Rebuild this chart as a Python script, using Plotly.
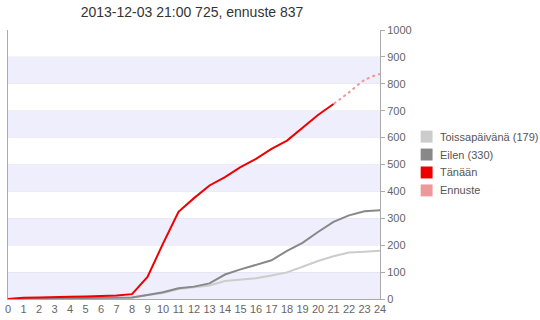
import plotly.graph_objects as go

hours = list(range(25))
toissa = [0, 1, 2, 2, 3, 3, 4, 5, 6, 15, 22, 37, 44, 50, 67, 73, 77, 87, 99, 120, 141, 159, 173, 176, 179]
eilen = [0, 1, 2, 2, 3, 3, 4, 5, 6, 15, 25, 40, 46, 58, 91, 110, 127, 144, 179, 209, 249, 287, 311, 326, 330]
tanaan_hours = list(range(22))
tanaan = [0, 5, 6, 6, 8, 9, 10, 13, 18, 82, 206, 324, 375, 422, 453, 490, 521, 558, 589, 638, 684, 725]
ennuste_hours = [21, 22, 23, 24]
ennuste = [725, 768, 814, 837]

title_text = "2013-12-03 21:00 725, ennuste 837"
legend_names = ["Toissapäivänä (179)", "Eilen (330)", "Tänään", "Ennuste"]
legend_colors = ["#cccccc", "#888888", "#ee0000", "#ee9999"]
y_ticks = list(range(0, 1001, 100))

fig = go.Figure()
fig.add_trace(go.Scatter(x=hours, y=toissa, mode="lines", name=legend_names[0],
                         line=dict(color=legend_colors[0], width=2), showlegend=False))
fig.add_trace(go.Scatter(x=hours, y=eilen, mode="lines", name=legend_names[1],
                         line=dict(color=legend_colors[1], width=2), showlegend=False))
fig.add_trace(go.Scatter(x=ennuste_hours, y=ennuste, mode="lines", name=legend_names[3],
                         line=dict(color=legend_colors[3], width=2, dash="dot", shape="spline"), showlegend=False))
fig.add_trace(go.Scatter(x=tanaan_hours, y=tanaan, mode="lines", name=legend_names[2],
                         line=dict(color=legend_colors[2], width=2), showlegend=False))

# alternating bands
shapes = []
for lo in range(0, 1000, 200):
    shapes.append(dict(type="rect", xref="paper", yref="y", x0=0, x1=1, y0=lo, y1=lo + 100,
                       fillcolor="#eeeefd", line=dict(width=0), layer="below"))

# manual legend (pixel -> paper conversion)
L, R, T, B = 5, 380, 30, 300
def px(x):
    return (x - L) / (R - L)
def py(y):
    return (B - y) / (B - T)

annotations = []
for i, (nm, col) in enumerate(zip(legend_names, legend_colors)):
    cy = 137 + 18 * i
    shapes.append(dict(type="rect", xref="paper", yref="paper",
                       x0=px(421), x1=px(433), y0=py(cy + 6), y1=py(cy - 6),
                       fillcolor=col, line=dict(width=0)))
    annotations.append(dict(xref="paper", yref="paper", x=px(438), y=py(cy), text=nm,
                            showarrow=False, xanchor="left", yanchor="middle",
                            font=dict(size=11, color="#555555")))

fig.update_layout(
    width=540, height=320,
    margin=dict(l=L, r=540 - R, t=T, b=320 - B),
    paper_bgcolor="white", plot_bgcolor="white",
    font=dict(family="Liberation Sans, Arial, sans-serif", size=11, color="#666666"),
    title=dict(text=title_text, x=px(192) * (R - L) / 540 + L / 540, xanchor="center",
               y=1 - 12 / 320, yanchor="middle", font=dict(size=14, color="#333333")),
    shapes=shapes,
    annotations=annotations,
    showlegend=False,
)
fig.update_xaxes(range=[0, 24], tickmode="array", tickvals=hours, ticktext=[str(h) for h in hours],
                 showgrid=False, zeroline=False, showline=True, linecolor="#aaaaaa", linewidth=1,
                 ticks="", tickfont=dict(size=11, color="#666666"), fixedrange=True)
fig.update_yaxes(range=[0, 1000], side="right", tickmode="array", tickvals=y_ticks,
                 ticktext=[str(v) for v in y_ticks],
                 showgrid=True, gridcolor="rgba(0,0,0,0.04)", zeroline=False,
                 showline=True, linecolor="#aaaaaa", linewidth=1, mirror=True,
                 ticks="outside", ticklen=4, tickcolor="#aaaaaa",
                 tickfont=dict(size=11, color="#666666"), fixedrange=True)

fig.write_html("out.html")
